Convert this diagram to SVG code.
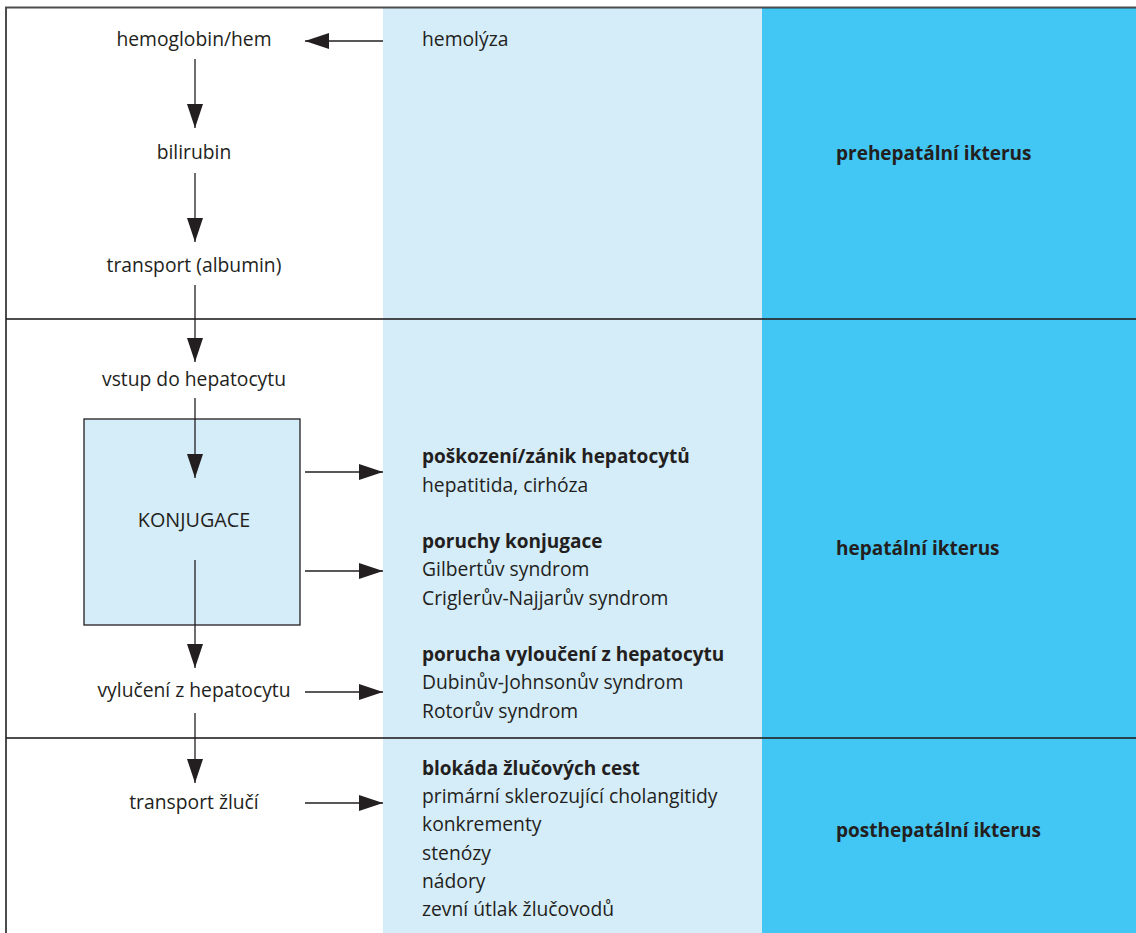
<svg xmlns="http://www.w3.org/2000/svg" width="1136" height="933" viewBox="0 0 1136 933">
<defs>
<style>
text{font-family:"Open Sans","Liberation Sans",sans-serif;font-size:19.3px;fill:#231f20}
.b{font-weight:bold;font-size:19px}
.c{text-anchor:middle}
.ln{stroke:#231f20;stroke-width:1.3;fill:none}
.div{stroke:#231f20;stroke-opacity:0.8;stroke-width:2;fill:none}
</style>
<marker id="ah" viewBox="0 0 24 16" refX="24" refY="8" markerWidth="24" markerHeight="16" markerUnits="userSpaceOnUse" orient="auto">
<path d="M0,0 L24,8 L0,16 Z" fill="#231f20"/>
</marker>
</defs>
<rect width="1136" height="933" fill="#fff"/>
<g id="columns">
<rect x="383" y="8" width="379" height="925" fill="#d5ecf9"/>
<rect x="762" y="8" width="374" height="925" fill="#42c6f4"/>
</g>
<g id="frame">
<path class="div" d="M6,933 V7.5 H1136"/>
<path class="div" d="M6,319 H1136"/>
<path class="div" d="M6,738 H1136"/>
</g>
<g id="konjugace">
<rect x="84" y="419" width="216" height="206" fill="#d5ecf9" stroke="#231f20" stroke-width="1.3"/>
<text class="c" x="194" y="527" style="font-size:19.8px">KONJUGACE</text>
</g>
<g id="n-hemoglobin"><text class="c" x="194" y="46">hemoglobin/hem</text></g>
<g id="n-bilirubin"><text class="c" x="194" y="159">bilirubin</text></g>
<g id="n-transport"><text class="c" x="194" y="272">transport (albumin)</text></g>
<g id="n-vstup"><text class="c" x="194" y="386">vstup do hepatocytu</text></g>
<g id="n-vylouceni"><text class="c" x="194" y="697">vylučení z hepatocytu</text></g>
<g id="n-zluc"><text class="c" x="194" y="809">transport žlučí</text></g>
<g id="n-hemolyza"><text x="422" y="46">hemolýza</text></g>
<g id="n-poskozeni">
<text class="b" x="422" y="463">poškození/zánik hepatocytů</text>
<text x="422" y="492">hepatitida, cirhóza</text>
</g>
<g id="n-poruchy">
<text class="b" x="422" y="548">poruchy konjugace</text>
<text x="422" y="576">Gilbertův syndrom</text>
<text x="422" y="605">Criglerův-Najjarův syndrom</text>
</g>
<g id="n-porucha">
<text class="b" x="422" y="661">porucha vyloučení z hepatocytu</text>
<text x="422" y="689">Dubinův-Johnsonův syndrom</text>
<text x="422" y="718">Rotorův syndrom</text>
</g>
<g id="n-blokada">
<text class="b" x="422" y="775">blokáda žlučových cest</text>
<text x="422" y="803">primární sklerozující cholangitidy</text>
<text x="422" y="831">konkrementy</text>
<text x="422" y="860">stenózy</text>
<text x="422" y="888">nádory</text>
<text x="422" y="916">zevní útlak žlučovodů</text>
</g>
<g id="n-pre"><text class="b" x="836" y="160">prehepatální ikterus</text></g>
<g id="n-hep"><text class="b" x="836" y="555">hepatální ikterus</text></g>
<g id="n-post"><text class="b" x="836" y="837">posthepatální ikterus</text></g>
<g id="connectors">
<path class="ln" marker-end="url(#ah)" d="M383,41 H305"/>
<path class="ln" marker-end="url(#ah)" d="M195,59 V128"/>
<path class="ln" marker-end="url(#ah)" d="M195,173 V242"/>
<path class="ln" marker-end="url(#ah)" d="M195,285 V362"/>
<path class="ln" marker-end="url(#ah)" d="M195,398 V478"/>
<path class="ln" marker-end="url(#ah)" d="M195,560 V668"/>
<path class="ln" marker-end="url(#ah)" d="M195,713 V783"/>
<path class="ln" marker-end="url(#ah)" d="M305,472 H383"/>
<path class="ln" marker-end="url(#ah)" d="M305,571 H383"/>
<path class="ln" marker-end="url(#ah)" d="M305,692 H383"/>
<path class="ln" marker-end="url(#ah)" d="M305,803 H383"/>
</g>
</svg>
